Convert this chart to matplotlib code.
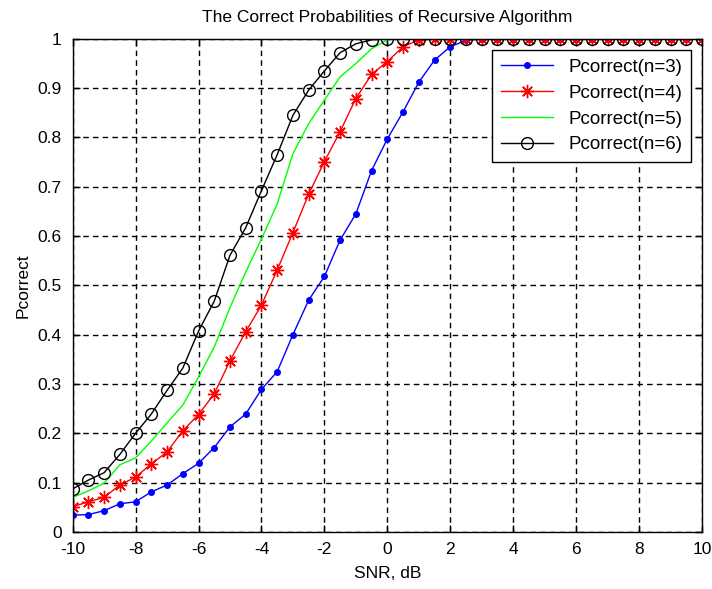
import matplotlib
matplotlib.use("Agg")
import matplotlib.pyplot as plt
import numpy as np

plt.rcParams['font.family'] = ['Liberation Sans', 'DejaVu Sans']
plt.rcParams['axes.unicode_minus'] = False

# SNR grid, dB
snr = np.arange(-10, 10.5, 0.5)

p_n3 = [0.034, 0.035, 0.043, 0.057, 0.061, 0.081, 0.095, 0.118, 0.139, 0.171,
        0.213, 0.239, 0.289, 0.325, 0.400, 0.470, 0.518, 0.592, 0.645, 0.733,
        0.797, 0.852, 0.912, 0.957, 0.984, 0.997, 1.0, 1.0, 1.0, 1.0,
        1.0, 1.0, 1.0, 1.0, 1.0, 1.0, 1.0, 1.0, 1.0, 1.0, 1.0]
p_n4 = [0.051, 0.061, 0.070, 0.095, 0.111, 0.138, 0.162, 0.205, 0.238, 0.280,
        0.347, 0.406, 0.460, 0.531, 0.607, 0.685, 0.751, 0.812, 0.879, 0.928,
        0.954, 0.984, 0.998, 1.0, 1.0, 1.0, 1.0, 1.0, 1.0, 1.0,
        1.0, 1.0, 1.0, 1.0, 1.0, 1.0, 1.0, 1.0, 1.0, 1.0, 1.0]
p_n5 = [0.070, 0.083, 0.099, 0.136, 0.150, 0.184, 0.221, 0.257, 0.314, 0.375,
        0.455, 0.527, 0.594, 0.665, 0.767, 0.828, 0.876, 0.923, 0.950, 0.980,
        0.998, 1.0, 1.0, 1.0, 1.0, 1.0, 1.0, 1.0, 1.0, 1.0,
        1.0, 1.0, 1.0, 1.0, 1.0, 1.0, 1.0, 1.0, 1.0, 1.0, 1.0]
p_n6 = [0.087, 0.105, 0.120, 0.157, 0.200, 0.239, 0.287, 0.332, 0.407, 0.468,
        0.561, 0.617, 0.692, 0.765, 0.845, 0.896, 0.935, 0.972, 0.990, 0.998,
        1.0, 1.0, 1.0, 1.0, 1.0, 1.0, 1.0, 1.0, 1.0, 1.0,
        1.0, 1.0, 1.0, 1.0, 1.0, 1.0, 1.0, 1.0, 1.0, 1.0, 1.0]

fig = plt.figure(figsize=(7.12, 5.89), dpi=100)
ax = fig.add_axes([0.102, 0.097, 0.884, 0.837])

ax.plot(snr, p_n3, color='blue', lw=1, marker='.', ms=8, label='Pcorrect(n=3)')
ax.plot(snr, p_n4, color='red', lw=1, marker=(8, 2, 0), ms=9.5, mew=1,
        label='Pcorrect(n=4)')
ax.plot(snr, p_n5, color='#00ff00', lw=1, label='Pcorrect(n=5)')
ax.plot(snr, p_n6, color='black', lw=1, marker='o', ms=8.5, mfc='none', mew=1,
        label='Pcorrect(n=6)')

ax.set_xlim(-10, 10)
ax.set_ylim(0, 1)
ax.set_xticks(np.arange(-10, 11, 2))
ax.set_yticks(np.arange(0, 1.01, 0.1))
ax.set_yticklabels(['0', '0.1', '0.2', '0.3', '0.4', '0.5', '0.6', '0.7', '0.8', '0.9', '1'])
ax.tick_params(direction='in', top=True, right=True, labelsize=12.5, length=5, width=1)
ax.tick_params(axis='x', pad=7)
ax.tick_params(axis='y', pad=8)
ax.grid(True, color='black', linestyle=(0, (4, 3)), linewidth=1)
for s in ax.spines.values():
    s.set_linewidth(1)

ax.set_title('The Correct Probabilities of Recursive Algorithm', fontsize=12.5, pad=12)
ax.set_xlabel('SNR, dB', fontsize=12.5, labelpad=7)
ax.set_ylabel('Pcorrect', fontsize=12.5, labelpad=5)

leg = ax.legend(loc='upper right', fontsize=13.5, numpoints=1, fancybox=False,
                edgecolor='black', framealpha=1, handlelength=2.8,
                labelspacing=0.47, borderaxespad=0.6, borderpad=0.45)
leg.get_frame().set_linewidth(1)

fig.savefig('out.png', dpi=100)
